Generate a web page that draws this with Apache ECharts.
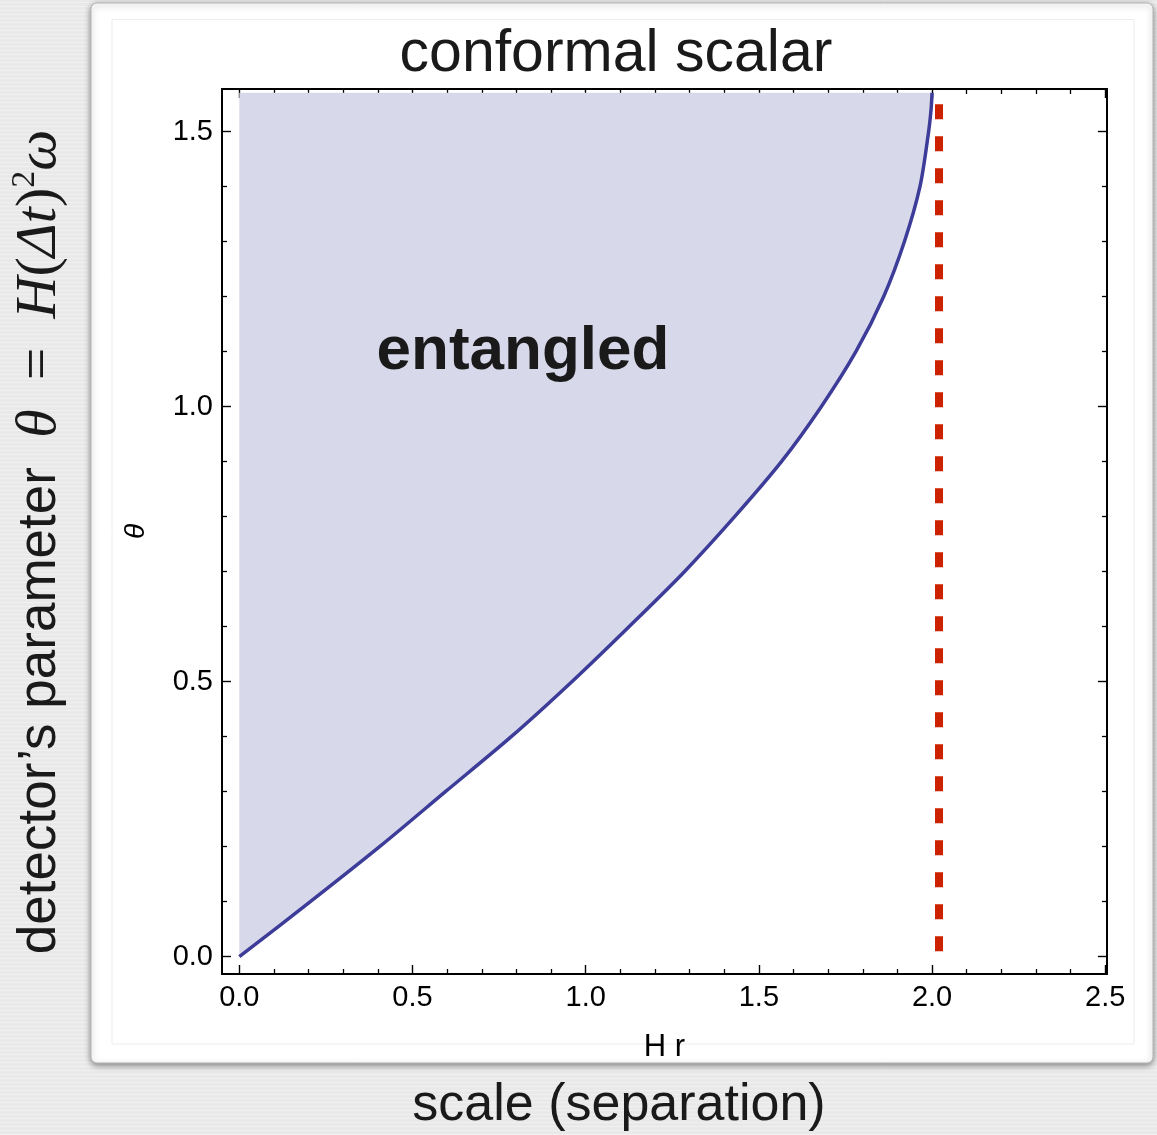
<!DOCTYPE html>
<html>
<head>
<meta charset="utf-8">
<title>conformal scalar</title>
<script src="https://cdn.jsdelivr.net/npm/echarts@6/dist/echarts.min.js"></script>
<style>
  html, body { margin: 0; padding: 0; }
  body {
    width: 1157px; height: 1135px; overflow: hidden;
    background: #e9e9e9;
    background-image: repeating-linear-gradient(0deg, rgba(255,255,255,0.35) 0px, rgba(255,255,255,0.35) 1px, rgba(0,0,0,0) 1px, rgba(0,0,0,0) 4px);
  }
  #chart { width: 1157px; height: 1135px; }
</style>
</head>
<body>
<div id="chart"></div>
<script>
// boundary of the entangled region
var boundaryTheta = [0, 0.1, 0.2, 0.3, 0.4, 0.5, 0.6, 0.7, 0.8, 0.9, 1.0, 1.1, 1.2, 1.3, 1.4, 1.5, 1.54, 1.5708];
var boundaryHr    = [0, 0.205, 0.405, 0.595, 0.785, 0.96, 1.125, 1.285, 1.43, 1.565, 1.68, 1.78, 1.86, 1.92, 1.965, 1.99, 1.997, 2.0];

// red dashed vertical line
var limitHr = 2.02;
var limitTheta = [1.55, 0.008];

var xTickLabels = ['0.0', '0.5', '1.0', '1.5', '2.0', '2.5'];
var yTickLabels = ['0.0', '0.5', '1.0', '1.5'];

var curve = boundaryTheta.map(function (t, i) { return [boundaryHr[i], t]; });
var limitLine = limitTheta.map(function (t) { return [limitHr, t]; });

var chart = echarts.init(document.getElementById('chart'));
var font = '"Liberation Sans", Arial, Helvetica, sans-serif';
var serif = '"Liberation Serif", "DejaVu Serif", serif';

// frame: grid 0 ; tick grid: grid 1 (0..2.5 / 0..1.5)
var frameLine = { show: true, onZero: false, lineStyle: { color: '#000', width: 2 } };
var tickStyle = { show: true, inside: true, length: 9, lineStyle: { color: '#000', width: 1.4 } };
var minorStyle = { show: true, splitNumber: 5, length: 5, lineStyle: { color: '#000', width: 1.3 } };
var noLine = { show: false, onZero: false };

function frameAxis(pos) {
  return {
    type: 'value', gridIndex: 0, position: pos,
    axisLine: frameLine, axisTick: { show: false }, axisLabel: { show: false },
    splitLine: { show: false }
  };
}

var option = {
  animation: false,
  backgroundColor: 'transparent',
  grid: [
    { left: 222, top: 89, width: 885, height: 885 },
    { left: 239.3, top: 131.7, width: 865.95, height: 825 }
  ],
  xAxis: [
    Object.assign(frameAxis('bottom'), {
      min: -0.05, max: 2.505,
      name: 'H r', nameLocation: 'middle', nameGap: 58,
      nameTextStyle: { fontFamily: font, fontSize: 31, color: '#000' }
    }),
    Object.assign(frameAxis('top'), { min: -0.05, max: 2.505 }),
    {
      type: 'value', gridIndex: 1, position: 'bottom', offset: 17.3,
      min: 0, max: 2.5, interval: 0.5,
      axisLine: noLine, axisTick: tickStyle, minorTick: minorStyle,
      splitLine: { show: false },
      axisLabel: {
        margin: 9, fontFamily: font, fontSize: 29, color: '#000',
        formatter: function (v) { return xTickLabels[Math.round(v / 0.5)]; }
      }
    },
    {
      type: 'value', gridIndex: 1, position: 'top', offset: 42.7,
      min: 0, max: 2.5, interval: 0.5,
      axisLine: noLine, axisTick: tickStyle, minorTick: minorStyle,
      splitLine: { show: false }, axisLabel: { show: false }
    }
  ],
  yAxis: [
    Object.assign(frameAxis('left'), {
      min: -0.0315, max: 1.5776,
      name: 'θ', nameLocation: 'middle', nameGap: 72, nameRotate: 90,
      nameTextStyle: { fontFamily: font, fontSize: 28, fontStyle: 'italic', color: '#000' }
    }),
    Object.assign(frameAxis('right'), { min: -0.0315, max: 1.5776 }),
    {
      type: 'value', gridIndex: 1, position: 'left', offset: 17.3,
      min: 0, max: 1.5, interval: 0.5,
      axisLine: noLine, axisTick: tickStyle, minorTick: minorStyle,
      splitLine: { show: false },
      axisLabel: {
        margin: 9, fontFamily: font, fontSize: 29, color: '#000',
        formatter: function (v) { return yTickLabels[Math.round(v / 0.5)]; }
      }
    },
    {
      type: 'value', gridIndex: 1, position: 'right', offset: 1.7,
      min: 0, max: 1.5, interval: 0.5,
      axisLine: noLine, axisTick: tickStyle, minorTick: minorStyle,
      splitLine: { show: false }, axisLabel: { show: false }
    }
  ],
  graphic: [
    {
      type: 'rect', z: -10,
      shape: { x: 91, y: 3, width: 1062, height: 1060, r: 6 },
      style: { fill: '#fff', stroke: '#b5b5b5', lineWidth: 1, shadowBlur: 6, shadowOffsetY: 2, shadowColor: 'rgba(0,0,0,0.45)' }
    },
    {
      type: 'rect', z: -9,
      shape: { x: 112, y: 19.5, width: 1022, height: 1024.5 },
      style: { fill: null, stroke: '#ececec', lineWidth: 1 }
    },
    {
      type: 'text', x: 616, y: 84,
      style: { text: 'conformal scalar', font: '59px ' + font, fill: '#1a1a1a', textAlign: 'center', textVerticalAlign: 'bottom' }
    },
    {
      type: 'text', x: 523, y: 352, z: 10,
      style: { text: 'entangled', font: 'bold 62px ' + font, fill: '#1a1a1a', textAlign: 'center', textVerticalAlign: 'middle' }
    },
    {
      type: 'text', x: 619, y: 1106,
      style: { text: 'scale (separation)', font: '52px ' + font, fill: '#1a1a1a', textAlign: 'center', textVerticalAlign: 'middle' }
    },
    {
      type: 'text', x: 40, y: 542, rotation: Math.PI / 2,
      style: {
        text: '{s|detector’s parameter  }{m|θ}{e|  =  }{m|H}{e|(}{m|Δt}{e|)}{p|2}{m|ω}',
        textAlign: 'center', textVerticalAlign: 'middle', fill: '#1a1a1a',
        rich: {
          s: { fontFamily: font, fontSize: 53, lineHeight: 64, fill: '#1a1a1a' },
          m: { fontFamily: serif, fontStyle: 'italic', fontSize: 58, lineHeight: 64, fill: '#1a1a1a' },
          e: { fontFamily: serif, fontSize: 58, lineHeight: 64, fill: '#1a1a1a' },
          p: { fontFamily: serif, fontSize: 34, lineHeight: 64, verticalAlign: 'top', fill: '#1a1a1a' }
        }
      }
    }
  ],
  series: [
    {
      type: 'custom', xAxisIndex: 0, yAxisIndex: 0, z: 1,
      data: [[0, 0]],
      renderItem: function (params, api) {
        var pts = curve.map(function (p) { return api.coord(p); });
        pts.push(api.coord([0, boundaryTheta[boundaryTheta.length - 1]]));
        pts.push(api.coord([0, 0]));
        return { type: 'polygon', shape: { points: pts }, style: { fill: '#d8d8eb' } };
      }
    },
    {
      type: 'line', xAxisIndex: 0, yAxisIndex: 0, z: 3,
      data: curve, smooth: 0.3, symbol: 'none',
      lineStyle: { color: '#3d3d99', width: 3.5 }
    },
    {
      type: 'line', xAxisIndex: 0, yAxisIndex: 0, z: 3,
      data: limitLine, symbol: 'none',
      lineStyle: { color: '#cc2200', width: 8, type: [15, 17], cap: 'butt' }
    }
  ]
};

chart.setOption(option);
</script>
</body>
</html>
